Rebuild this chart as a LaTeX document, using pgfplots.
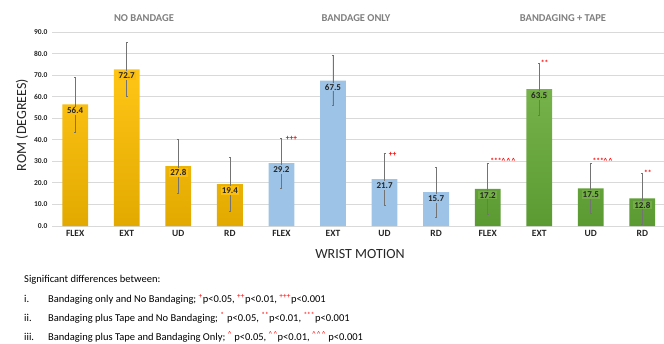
\documentclass[border=0pt]{standalone}
\usepackage{pgfplots}
\pgfplotsset{compat=1.18}
\usepackage{fontspec}
\setmainfont{Carlito}
\definecolor{ytop}{HTML}{FFC516}
\definecolor{ybot}{HTML}{E2A900}
\definecolor{ymid}{HTML}{FCBE0C}
\definecolor{bl}{HTML}{9DC3E6}
\definecolor{gtop}{HTML}{76B34A}
\definecolor{gbot}{HTML}{5B9A32}
\definecolor{gmid}{HTML}{72AE45}
\definecolor{gridc}{HTML}{D9D9D9}
\definecolor{ttl}{HTML}{7F7F7F}
\definecolor{sig}{HTML}{FF0000}
\begin{document}
\begin{tikzpicture}[x=1pt,y=1pt]
\useasboundingbox (0,0) rectangle (664,343);
\begin{axis}[
  at={(52pt,117pt)}, anchor=south west, scale only axis,
  width=612pt, height=194pt,
  xmin=-0.45, xmax=11.42, ymin=0, ymax=90,
  ytick={0,10,20,30,40,50,60,70,80,90},
  yticklabels={0.0,10.0,20.0,30.0,40.0,50.0,60.0,70.0,80.0,90.0},
  xtick={0,1,2,3,4,5,6,7,8,9,10,11},
  xticklabels={FLEX,EXT,UD,RD,FLEX,EXT,UD,RD,FLEX,EXT,UD,RD},
  ymajorgrids, grid style={gridc, line width=0.8pt},
  axis line style={draw=none}, major tick length=0pt,
  yticklabel style={font=\bfseries\fontsize{7.5}{9}\selectfont, text=black!85, xshift=-1pt},
  xticklabel style={font=\bfseries\fontsize{9.5}{11}\selectfont, text=black!85, yshift=-1pt},
  clip=false,
  every axis plot/.append style={ybar, bar width=0.5, bar shift=0pt, draw=none,
    error bars/y dir=both, error bars/y explicit,
    error bars/error bar style={black!55, line width=0.6pt},
    error bars/error mark options={black!55, mark size=1pt, line width=0.5pt, rotate=90}},
  nodes near coords,
  nodes near coords style={anchor=north, yshift=-2pt, inner sep=1.2pt,
    font=\bfseries\fontsize{9}{10}\selectfont, text=black!85,
    /pgf/number format/fixed, /pgf/number format/fixed zerofill,
    /pgf/number format/precision=1, /pgf/number format/assume math mode=true},
]
\addplot[top color=ytop, bottom color=ybot, nodes near coords style={fill=ymid}] coordinates {
  (0,56.4) +- (0,12.7)
  (1,72.7) +- (0,12.5)
  (2,27.8) +- (0,12.4)
  (3,19.4) +- (0,12.5)
};
\addplot[fill=bl, nodes near coords style={fill=bl}] coordinates {
  (4,29.2) +- (0,11.6)
  (5,67.5) +- (0,11.7)
  (6,21.7) +- (0,12.0)
  (7,15.7) +- (0,11.7)
};
\addplot[top color=gtop, bottom color=gbot, nodes near coords style={fill=gmid}] coordinates {
  (8,17.2) +- (0,11.8)
  (9,63.5) +- (0,12.0)
  (10,17.5) +- (0,11.7)
  (11,12.8) +- (0,11.8)
};
\begin{scope}[every node/.style={anchor=base west, inner sep=0pt, text=sig, font=\bfseries\fontsize{7.5}{8}\selectfont}]
\node at (axis cs:4.08,39.8) {+++};
\node at (axis cs:6.08,32.4) {++};
\node at (axis cs:8.05,29.2) {***\textasciicircum\,\textasciicircum\,\textasciicircum};
\node at (axis cs:9.03,74.3) {**};
\node at (axis cs:10.03,29.2) {***\textasciicircum\,\textasciicircum};
\node at (axis cs:11.03,23.3) {**};
\end{scope}
\end{axis}
\begin{scope}[every node/.style={font=\bfseries\fontsize{10.5}{12}\selectfont, text=ttl}]
\node at (144,325) {NO BANDAGE};
\node at (356,325) {BANDAGE ONLY};
\node at (563,325) {BANDAGING + TAPE};
\end{scope}
\node[rotate=90, font=\fontsize{14}{16}\selectfont, text=black!85] at (22,218) {ROM (DEGREES)};
\node[font=\fontsize{14}{16}\selectfont, text=black!85] at (360,89) {WRIST MOTION};
\begin{scope}[every node/.style={anchor=base west, inner sep=0pt, font=\fontsize{10.5}{12}\selectfont}]
\node at (24,60) {Significant differences between:};
\node at (24,41) {i.};
\node at (48,41) {Bandaging only and No Bandaging; \textcolor{sig}{\textsuperscript{+}}p<0.05, \textcolor{sig}{\textsuperscript{++}}p<0.01, \textcolor{sig}{\textsuperscript{+++}}p<0.001};
\node at (24,22) {ii.};
\node at (48,22) {Bandaging plus Tape and No Bandaging; \textcolor{sig}{\textsuperscript{*}} p<0.05, \textcolor{sig}{\textsuperscript{**}}p<0.01, \textcolor{sig}{\textsuperscript{***}}p<0.001};
\node at (24,3) {iii.};
\node at (48,3) {Bandaging plus Tape and Bandaging Only; \textcolor{sig}{\textsuperscript{\textasciicircum}} p<0.05, \textcolor{sig}{\textsuperscript{\textasciicircum\,\textasciicircum}}p<0.01, \textcolor{sig}{\textsuperscript{\textasciicircum\,\textasciicircum\,\textasciicircum}} p<0.001};
\end{scope}
\end{tikzpicture}
\end{document}
